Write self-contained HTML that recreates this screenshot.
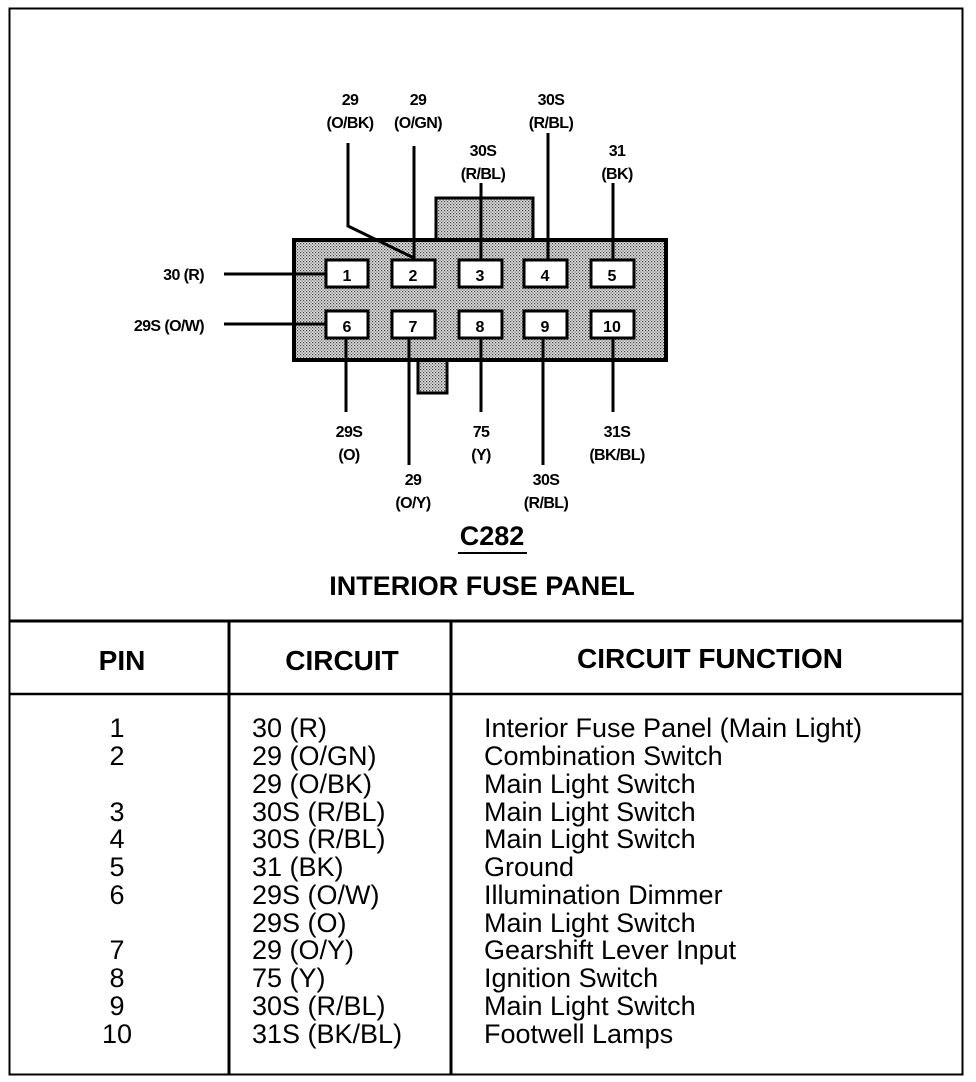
<!DOCTYPE html>
<html><head><style>
html,body{margin:0;padding:0;background:#fff;}
svg{display:block;}
text{font-family:"Liberation Sans",sans-serif;fill:#000;}
.s{font-size:16px;font-weight:bold;letter-spacing:-0.6px;}
.t{font-size:27px;}
.h{font-size:28px;font-weight:bold;}
</style></head><body>
<svg width="976" height="1082" viewBox="0 0 976 1082">
<defs>
<pattern id="dots" width="3" height="3" patternUnits="userSpaceOnUse">
<rect width="3" height="3" fill="#ddd"/><rect width="1.2" height="1.2" fill="#444"/><rect x="1.5" y="1.5" width="1.2" height="1.2" fill="#666"/>
</pattern>
</defs>
<rect x="9.5" y="8.5" width="953" height="1066" fill="none" stroke="#000" stroke-width="2"/>
<line x1="9" y1="621" x2="963" y2="621" stroke="#000" stroke-width="3"/>
<line x1="9" y1="694" x2="963" y2="694" stroke="#000" stroke-width="2.5"/>
<line x1="229" y1="621" x2="229" y2="1075" stroke="#000" stroke-width="3"/>
<line x1="451" y1="621" x2="451" y2="1075" stroke="#000" stroke-width="3"/>

<rect x="436" y="198" width="97" height="44" fill="url(#dots)" stroke="#000" stroke-width="3"/>
<rect x="418" y="358" width="29" height="35" fill="url(#dots)" stroke="#000" stroke-width="3"/>
<rect x="294" y="240" width="372" height="120" fill="url(#dots)" stroke="#000" stroke-width="4"/>
<g stroke="#000" stroke-width="3" fill="none">
<line x1="224" y1="274" x2="326" y2="274"/>
<line x1="224" y1="324" x2="326" y2="324"/>
<polyline points="348,143 348,226 414,258"/>
<line x1="414" y1="146" x2="414" y2="260"/>
<line x1="481" y1="183" x2="481" y2="260"/>
<line x1="548" y1="133" x2="548" y2="260"/>
<line x1="613" y1="183" x2="613" y2="260"/>
<line x1="346" y1="338" x2="346" y2="412"/>
<line x1="409" y1="338" x2="409" y2="465"/>
<line x1="481" y1="338" x2="481" y2="412"/>
<line x1="543" y1="338" x2="543" y2="465"/>
<line x1="613" y1="338" x2="613" y2="412"/>
</g>
<g fill="#fff" stroke="#000" stroke-width="3">
<rect x="326" y="260" width="42" height="27"/><rect x="392" y="260" width="43" height="27"/><rect x="459" y="260" width="43" height="27"/><rect x="524" y="260" width="43" height="27"/><rect x="591" y="260" width="43" height="27"/>
<rect x="326" y="311" width="42" height="27"/><rect x="392" y="311" width="43" height="27"/><rect x="459" y="311" width="43" height="27"/><rect x="524" y="311" width="43" height="27"/><rect x="591" y="311" width="43" height="27"/>
</g>
<g font-size="16" font-weight="bold" text-anchor="middle">
<text x="347" y="281">1</text><text x="413" y="281">2</text><text x="480" y="281">3</text><text x="545" y="281">4</text><text x="612" y="281">5</text>
<text x="347" y="332">6</text><text x="413" y="332">7</text><text x="480" y="332">8</text><text x="545" y="332">9</text><text x="612" y="332">10</text>
</g>
<g class="s" text-anchor="middle">
<text x="350" y="105">29</text><text x="350" y="128">(O/BK)</text>
<text x="418" y="105">29</text><text x="418" y="128">(O/GN)</text>
<text x="551" y="105">30S</text><text x="551" y="128">(R/BL)</text>
<text x="483" y="156">30S</text><text x="483" y="179">(R/BL)</text>
<text x="617" y="156">31</text><text x="617" y="179">(BK)</text>
<text x="349" y="437">29S</text><text x="349" y="460">(O)</text>
<text x="481" y="437">75</text><text x="481" y="460">(Y)</text>
<text x="617" y="437">31S</text><text x="617" y="460">(BK/BL)</text>
<text x="413" y="485">29</text><text x="413" y="508">(O/Y)</text>
<text x="546" y="485">30S</text><text x="546" y="508">(R/BL)</text>
</g>
<text class="s" x="204" y="280" text-anchor="end">30 (R)</text>
<text class="s" x="204" y="331" text-anchor="end">29S (O/W)</text>

<text x="492" y="545" text-anchor="middle" font-size="27" font-weight="bold">C282</text>
<line x1="458" y1="553" x2="527" y2="553" stroke="#000" stroke-width="2"/>
<text x="482" y="595" text-anchor="middle" font-size="27" font-weight="bold">INTERIOR FUSE PANEL</text>

<text class="h" x="122" y="670" text-anchor="middle">PIN</text>
<text class="h" x="342" y="670" text-anchor="middle">CIRCUIT</text>
<text class="h" x="710" y="668" text-anchor="middle">CIRCUIT FUNCTION</text>

<g class="t">
<text x="117" y="737" text-anchor="middle">1</text>
<text x="117" y="765" text-anchor="middle">2</text>
<text x="117" y="821" text-anchor="middle">3</text>
<text x="117" y="848" text-anchor="middle">4</text>
<text x="117" y="876" text-anchor="middle">5</text>
<text x="117" y="904" text-anchor="middle">6</text>
<text x="117" y="959" text-anchor="middle">7</text>
<text x="117" y="987" text-anchor="middle">8</text>
<text x="117" y="1015" text-anchor="middle">9</text>
<text x="117" y="1043" text-anchor="middle">10</text>
<text x="252" y="737">30 (R)</text>
<text x="252" y="765">29 (O/GN)</text>
<text x="252" y="793">29 (O/BK)</text>
<text x="252" y="821">30S (R/BL)</text>
<text x="252" y="848">30S (R/BL)</text>
<text x="252" y="876">31 (BK)</text>
<text x="252" y="904">29S (O/W)</text>
<text x="252" y="932">29S (O)</text>
<text x="252" y="959">29 (O/Y)</text>
<text x="252" y="987">75 (Y)</text>
<text x="252" y="1015">30S (R/BL)</text>
<text x="252" y="1043">31S (BK/BL)</text>
<text x="484" y="737">Interior Fuse Panel (Main Light)</text>
<text x="484" y="765">Combination Switch</text>
<text x="484" y="793">Main Light Switch</text>
<text x="484" y="821">Main Light Switch</text>
<text x="484" y="848">Main Light Switch</text>
<text x="484" y="876">Ground</text>
<text x="484" y="904">Illumination Dimmer</text>
<text x="484" y="932">Main Light Switch</text>
<text x="484" y="959">Gearshift Lever Input</text>
<text x="484" y="987">Ignition Switch</text>
<text x="484" y="1015">Main Light Switch</text>
<text x="484" y="1043">Footwell Lamps</text>
</g>
</svg>
</body></html>
